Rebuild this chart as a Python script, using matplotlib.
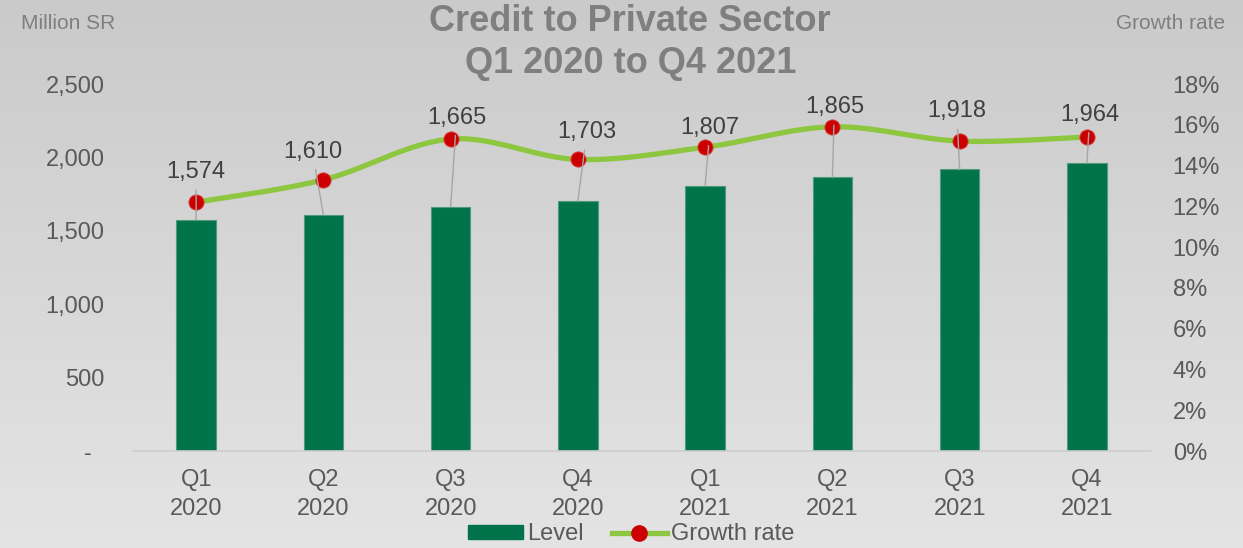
import numpy as np
import matplotlib
matplotlib.use("Agg")
import matplotlib.pyplot as plt
from matplotlib.colors import LinearSegmentedColormap
from matplotlib.lines import Line2D
from matplotlib.patches import Patch

plt.rcParams['font.family'] = ['Liberation Sans', 'DejaVu Sans']

quarters = ['Q1\n2020', 'Q2\n2020', 'Q3\n2020', 'Q4\n2020',
            'Q1\n2021', 'Q2\n2021', 'Q3\n2021', 'Q4\n2021']
level = [1574, 1610, 1665, 1703, 1807, 1865, 1918, 1964]
growth = [12.2, 13.3, 15.3, 14.3, 14.9, 15.9, 15.2, 15.4]

# where each value label sits relative to its bar top (pixels)
label_offsets = [(0, 48), (-11, 63), (6, 89), (9, 69),
                 (5, 58), (2, 70), (-3, 58), (3, 48)]

BAR = '#00734a'
LINE = '#8dc63f'
DOT = '#cc0000'
TICK = '#595959'


def catmull_rom(x, y, n=40):
    """Smooth curve through the points, like a spreadsheet 'smoothed line'."""
    px = np.concatenate([[x[0]], x, [x[-1]]])
    py = np.concatenate([[y[0]], y, [y[-1]]])
    xs, ys = [], []
    t = np.linspace(0, 1, n)
    for i in range(1, len(px) - 2):
        p0, p1, p2, p3 = [np.array([px[j], py[j]]) for j in range(i - 1, i + 3)]
        c1 = p1 + (p2 - p0) / 6
        c2 = p2 - (p3 - p1) / 6
        pts = ((1 - t) ** 3)[:, None] * p1 + (3 * (1 - t) ** 2 * t)[:, None] * c1 \
            + (3 * (1 - t) * t ** 2)[:, None] * c2 + (t ** 3)[:, None] * p2
        xs.append(pts[:, 0])
        ys.append(pts[:, 1])
    return np.concatenate(xs), np.concatenate(ys)


fig = plt.figure(figsize=(12.43, 5.48), dpi=100)

# soft grey backdrop, darker at the top
bg = fig.add_axes([0, 0, 1, 1], zorder=-10)
grad = np.linspace(0, 1, 256)[:, None]
cmap = LinearSegmentedColormap.from_list('bg', ['#cbcacb', '#e4e4e4'])
bg.imshow(grad, aspect='auto', cmap=cmap, extent=[0, 1, 0, 1], origin='upper')
bg.axis('off')

ax = fig.add_axes([0.1066, 0.177, 0.819, 0.6697])
ax.patch.set_alpha(0)
x = np.arange(len(quarters))
ax.bar(x, level, width=0.31, color=BAR, edgecolor='#4f9a78', linewidth=0.8, zorder=2)
ax.set_xlim(-0.5, len(quarters) - 0.5)
ax.set_ylim(0, 2500)
ax.set_yticks([0, 500, 1000, 1500, 2000, 2500])
ax.set_yticklabels(['-  ', '500', '1,000', '1,500', '2,000', '2,500'])
ax.set_xticks(x)
ax.set_xticklabels(quarters, linespacing=1.4)
ax.tick_params(axis='y', length=0, pad=20, labelsize=17, labelcolor=TICK)
ax.tick_params(axis='x', length=0, pad=13, labelsize=17, labelcolor=TICK)
for side in ['top', 'right', 'left']:
    ax.spines[side].set_visible(False)
ax.spines['bottom'].set_color('#cdcdcd')
ax.spines['bottom'].set_linewidth(1.2)

ax2 = ax.twinx()
ax2.set_ylim(0, 18)
ax2.set_yticks(range(0, 19, 2))
ax2.set_yticklabels([f'{v}%' for v in range(0, 19, 2)])
ax2.tick_params(axis='y', length=0, pad=16, labelsize=17, labelcolor=TICK)
for side in ax2.spines:
    ax2.spines[side].set_visible(False)

sx, sy = catmull_rom(x.astype(float), np.array(growth))
ax2.plot(sx, sy, color=LINE, lw=3.8, solid_capstyle='round', zorder=3)
ax2.plot(x, growth, 'o', color=DOT, markersize=11, markeredgecolor='#d84a4a',
         markeredgewidth=0.6, zorder=4)

for xi, val, (dx, dy) in zip(x, level, label_offsets):
    ax2.annotate(f'{val:,}', xy=(xi, val), xycoords=ax.transData,
                 xytext=(dx, dy), textcoords='offset pixels',
                 ha='center', va='center', fontsize=17, color='#404040',
                 arrowprops=dict(arrowstyle='-', color='#a6a6a6', lw=1,
                                 shrinkA=3, shrinkB=0),
                 zorder=5)

title_kw = dict(ha='center', va='center', fontsize=26, fontweight='bold', color='#7f7f7f')
fig.text(0.507, 0.960, 'Credit to Private Sector', **title_kw)
fig.text(0.507, 0.885, 'Q1 2020 to Q4 2021', **title_kw)
fig.text(0.017, 0.958, 'Million SR', ha='left', va='center', fontsize=15, color='#7f7f7f')
fig.text(0.986, 0.958, 'Growth rate', ha='right', va='center', fontsize=15, color='#7f7f7f')

handles = [Patch(facecolor=BAR, edgecolor=BAR),
           Line2D([], [], color=LINE, lw=3.8, marker='o', markersize=11,
                  markerfacecolor=DOT, markeredgecolor=DOT)]
fig.legend(handles, ['Level', 'Growth rate'], loc='center', bbox_to_anchor=(0.508, 0.025),
           ncol=2, frameon=False, fontsize=17, handlelength=2.3, handleheight=0.5,
           handletextpad=0.2, columnspacing=1.2, labelcolor=TICK, borderpad=0)

fig.savefig('out.png', dpi=100)
